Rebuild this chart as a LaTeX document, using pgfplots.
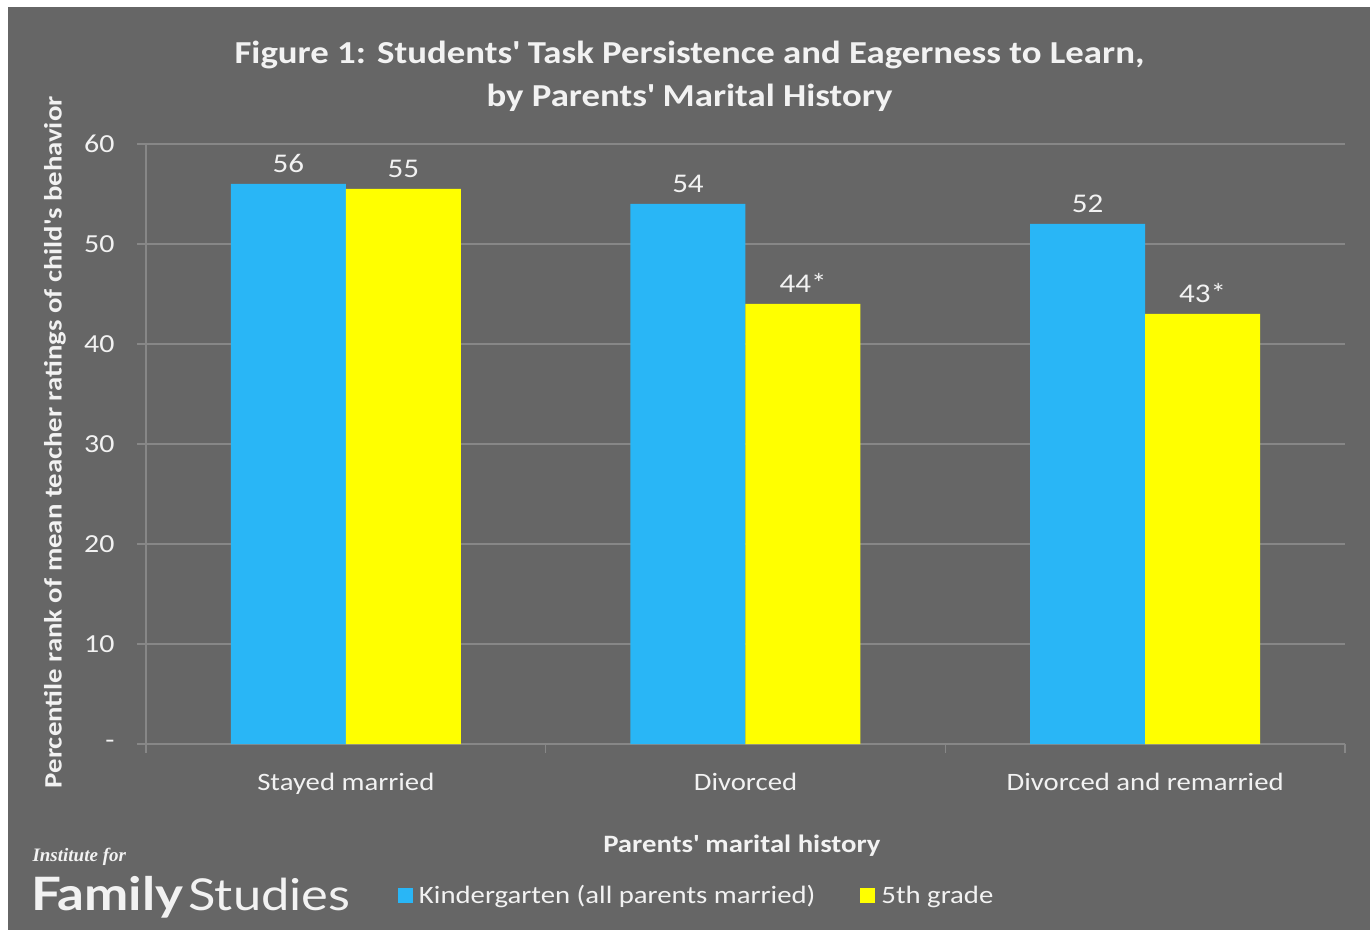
\documentclass[border=0pt]{standalone}
\usepackage{pgfplots}
\pgfplotsset{compat=1.18}
\usepackage{fontspec}
\setmainfont{Carlito}[FakeStretch=1.15]
\newfontfamily\logofont{Lato}[FakeStretch=1.15]
\newfontfamily\instfont{Liberation Serif}
\definecolor{bg}{RGB}{102,102,102}
\definecolor{gridc}{RGB}{135,135,135}
\definecolor{txt}{RGB}{242,242,242}
\definecolor{kblue}{RGB}{41,182,246}
\definecolor{kyellow}{RGB}{255,255,0}
\newcommand{\ap}{\textquotesingle}
\begin{document}
\begin{tikzpicture}[x=1pt,y=1pt]
\useasboundingbox (0,0) rectangle (1371,930);
\fill[white] (0,0) rectangle (1371,930);
\fill[bg] (8,0) rectangle (1370,923);
\node[text=txt, font=\fontsize{32}{43}\selectfont\bfseries, align=center] at (689.5,853.5)
  {Figure 1: Students\ap{} Task Persistence and Eagerness to Learn,\\by Parents\ap{} Marital History};
\node[text=txt, font=\instfont\fontsize{19}{22}\selectfont\bfseries\itshape, anchor=west] at (29,73) {Institute for};
\node[text=txt, font=\logofont\fontsize{46}{50}\selectfont\bfseries, anchor=base west, inner sep=0pt] (fam) at (31,20) {Family};
\node[text=txt, font=\logofont\fontsize{44}{50}\selectfont, anchor=base west, inner sep=0pt] at ([xshift=5pt]fam.base east) {Studies};
\begin{axis}[
  at={(146pt,186pt)}, anchor=south west,
  scale only axis, width=1199pt, height=600pt,
  xmin=-0.5, xmax=2.5, ymin=0, ymax=60,
  ybar=0pt, bar width=115pt,
  axis x line*=bottom, axis y line*=left,
  axis line style={gridc, line width=1.5pt, -},
  ymajorgrids, grid style={gridc, line width=1.5pt},
  tick style={gridc, line width=1.5pt},
  tick align=outside, major tick length=9pt,
  ytick={0,10,20,30,40,50,60},
  yticklabels={{-},10,20,30,40,50,60},
  yticklabel style={text=txt, font=\fontsize{26}{30}\selectfont, xshift=-19pt},
  xtick={-0.5,0.5,1.5,2.5}, xticklabels={},
  extra x ticks={0,1,2},
  extra x tick labels={Stayed married, Divorced, Divorced and remarried},
  extra x tick style={major tick length=0pt, xticklabel style={text=txt, font=\fontsize{25}{30}\selectfont, yshift=-26pt}},
  ylabel={Percentile rank of mean teacher ratings of child\ap{}s behavior},
  ylabel style={at={(axis description cs:-0.0759,0.503)}, anchor=center, text=txt, font=\fontsize{25}{30}\selectfont\bfseries},
  xlabel={Parents\ap{} marital history},
  xlabel style={at={(axis description cs:0.497,-0.17)}, anchor=center, text=txt, font=\fontsize{25}{30}\selectfont\bfseries},
  legend columns=2,
  legend style={at={(axis description cs:0.210,-0.252)}, anchor=west, draw=none, fill=none, inner sep=0pt,
    text=txt, font=\fontsize{25}{30}\selectfont, /tikz/every even column/.append style={column sep=43pt}},
  legend image code/.code={\fill[#1,draw=none] (0pt,-7.5pt) rectangle (15pt,7.5pt); \path (19pt,0pt);},
  point meta=explicit symbolic,
  nodes near coords,
  every node near coord/.append style={text=txt, font=\fontsize{27}{30}\selectfont, yshift=8pt},
]
\addplot[fill=kblue, draw=none] coordinates {(0,56) [56] (1,54) [54] (2,52) [52]};
\addplot[fill=kyellow, draw=none] coordinates {(0,55.5) [55] (1,44) [44*] (2,43) [43*]};
\legend{Kindergarten (all parents married), 5th grade}
\end{axis}
\end{tikzpicture}
\end{document}
